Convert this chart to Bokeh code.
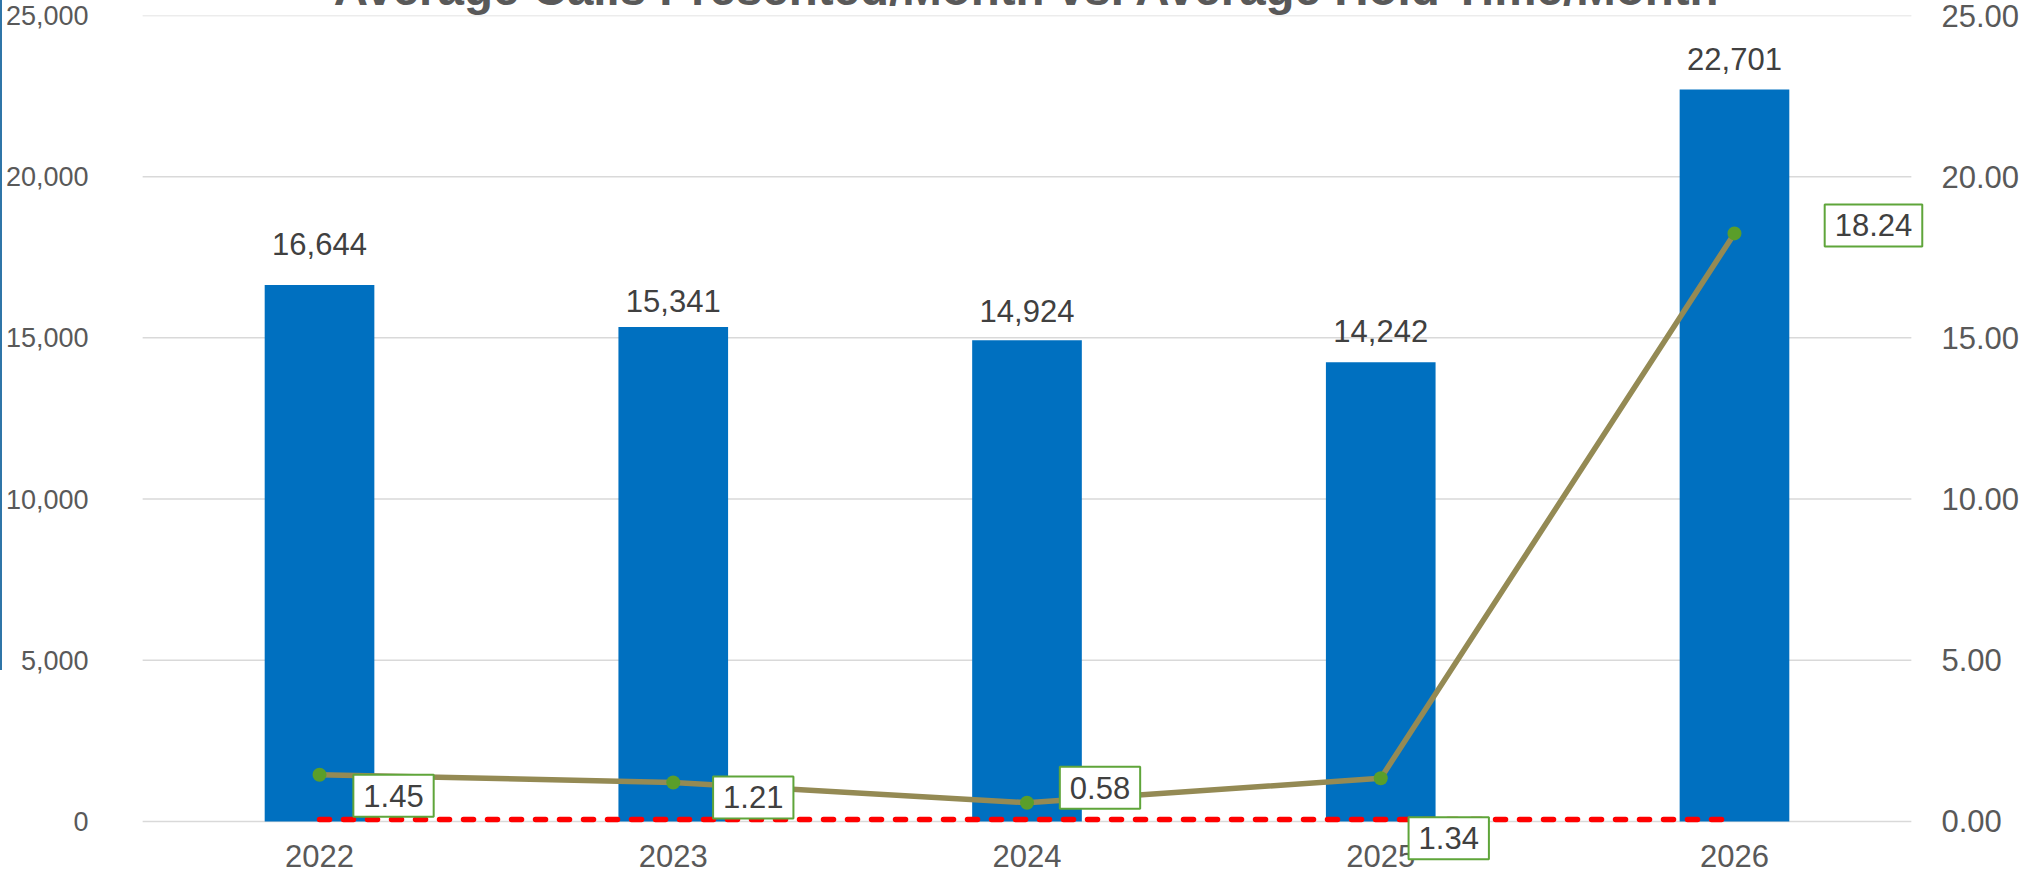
from bokeh.plotting import figure
from bokeh.models import (Range1d, LinearAxis, NumeralTickFormatter, FixedTicker, Label,
                          FactorRange, ColumnDataSource)
from bokeh.transform import dodge
from bokeh.embed import file_html
from bokeh.resources import INLINE

# ---- data ----
years = ["2022", "2023", "2024", "2025", "2026"]
calls = [16644, 15341, 14924, 14242, 22701]
hold = [1.45, 1.21, 0.58, 1.34, 18.24]
target = [0.06, 0.06, 0.06, 0.06, 0.06]
left_ticks = [0, 5000, 10000, 15000, 20000, 25000]
right_ticks = [0, 5, 10, 15, 20, 25]
title_text = "Average Calls Presented/Month vs. Average Hold Time/Month"

# ---- label placement (pixels) ----
bar_label_dy = [41, 26, 29, 31, 31]
hold_label_dx = [74, 80, 73, 68, 139]
hold_label_dy = [-21, -15, 15, -60, 8]
year_label_dy = -35

FONT = "Liberation Sans"
TICK_COLOR = "#595959"
LABEL_COLOR = "#404040"

# layout: frame extends below the zero line (room for year labels / boxed label)
PX_PER_AXIS = 805.0
EXTRA_BELOW = 56.0
left_start = -left_ticks[-1] * EXTRA_BELOW / PX_PER_AXIS
right_start = -right_ticks[-1] * EXTRA_BELOW / PX_PER_AXIS

x_range = FactorRange(*years, range_padding=0.04, range_padding_units="absolute")

def cat_x(yr):
    # synthetic coordinate of a category centre on the factor range
    return years.index(yr) + 0.5

p = figure(
    x_range=x_range,
    y_range=Range1d(left_start, left_ticks[-1]),
    width=2020, height=942,
    output_backend="svg", toolbar_location=None,
    min_border_left=125, min_border_right=96,
    min_border_top=80, min_border_bottom=0,
    title=title_text,
    styles={
        "margin-top": "-65px",
        "border-left-style": "solid",
        "border-left-width": "2px",
        "border-left-color": "#2F75A8",
        "border-image-source": "linear-gradient(to bottom, #2F75A8 0%, #2F75A8 78%, rgba(255,255,255,0) 78%)",
        "border-image-slice": "1",
    },
)
p.background_fill_color = "white"
p.border_fill_color = "white"
p.outline_line_color = None

p.title.text_font = FONT
p.title.text_font_size = "47.5px"
p.title.text_font_style = "bold"
p.title.text_color = "#595959"
p.title.align = "center"
p.title.standoff = 2

p.extra_y_ranges = {"right": Range1d(right_start, right_ticks[-1])}

ya = p.yaxis[0]
ya.ticker = FixedTicker(ticks=left_ticks)
ya.formatter = NumeralTickFormatter(format="0,0")
ra = LinearAxis(y_range_name="right", ticker=FixedTicker(ticks=right_ticks),
                formatter=NumeralTickFormatter(format="0.00"))
p.add_layout(ra, "right")

for ax, st, fs in ((ya, 40, "27px"), (ra, 16, "31px")):
    ax.axis_line_color = None
    ax.major_tick_line_color = None
    ax.minor_tick_line_color = None
    ax.major_tick_out = 0
    ax.major_tick_in = 0
    ax.minor_tick_out = 0
    ax.major_label_text_font = FONT
    ax.major_label_text_font_size = fs
    ax.major_label_text_color = TICK_COLOR
    ax.major_label_standoff = st

p.xaxis.visible = False
p.xgrid.visible = False
p.ygrid.visible = False

# horizontal gridlines spanning the category area
grid_src = ColumnDataSource(dict(
    x0=[years[0]] * len(left_ticks),
    x1=[years[-1]] * len(left_ticks),
    y=left_ticks,
))
p.segment(x0=dodge("x0", -0.5, range=x_range), x1=dodge("x1", 0.5, range=x_range),
          y0="y", y1="y", source=grid_src, line_color="#D9D9D9", line_width=1.5)

# bars
p.vbar(x=years, top=calls, width=0.31, fill_color="#0070C0", line_color=None)

# red dashed target line
p.line(x=years, y=target, y_range_name="right", line_color="#FF0000",
       line_width=5.5, line_dash="10 14", line_cap="round")

# hold time line
p.line(x=years, y=hold, y_range_name="right", line_color="#948A54", line_width=5.5)
p.scatter(x=years, y=hold, y_range_name="right", size=14,
          fill_color="#5A9E2A", line_color=None)

# year (category) labels
for yr in years:
    p.add_layout(Label(x=cat_x(yr), y=0, y_offset=year_label_dy, text=yr,
                       text_align="center", text_baseline="middle",
                       text_font=FONT, text_font_size="31px", text_color=TICK_COLOR))

# bar value labels
for i, yr in enumerate(years):
    p.add_layout(Label(x=cat_x(yr), y=calls[i], y_offset=bar_label_dy[i],
                       text=f"{calls[i]:,}", text_align="center", text_baseline="middle",
                       text_font=FONT, text_font_size="31px", text_color=LABEL_COLOR))

# hold time labels (boxed)
for i, yr in enumerate(years):
    p.add_layout(Label(x=cat_x(yr), y=hold[i], y_range_name="right",
                       x_offset=hold_label_dx[i], y_offset=hold_label_dy[i],
                       text=f"{hold[i]:.2f}", text_align="center", text_baseline="middle",
                       text_font=FONT, text_font_size="31px", text_color=LABEL_COLOR,
                       background_fill_color="white", border_line_color="#5FA53A",
                       border_line_width=2, padding=10))

open("out.html", "w").write(file_html(p, INLINE))
